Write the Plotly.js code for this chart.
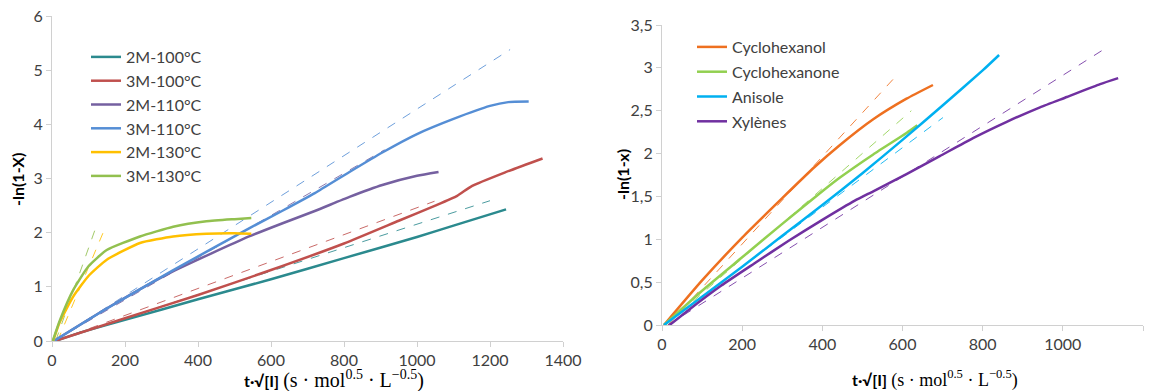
<!DOCTYPE html>
<html>
<head>
<meta charset="utf-8">
<script src="https://cdn.plot.ly/plotly-3.0.1.min.js"></script>
<style>html,body{margin:0;padding:0;background:#fff}#chart{width:1160px;height:391px}</style>
</head>
<body>
<div id="chart"></div>
<script>
// ---------- LEFT CHART DATA ----------
const leftNames = ["2M-100°C", "3M-100°C", "2M-110°C", "3M-110°C", "2M-130°C", "3M-130°C"];
const leftColors = ["#2B8A8E", "#C0504D", "#7560A0", "#558ED5", "#FFC000", "#92C04F"];

const x2M100 = [8, 100, 200, 400, 600, 800, 1000, 1100, 1244];
const y2M100 = [0, 0.20, 0.39, 0.77, 1.14, 1.53, 1.92, 2.13, 2.43];
const x3M100 = [8, 200, 400, 600, 800, 950, 1050, 1110, 1150, 1240, 1344];
const y3M100 = [0, 0.42, 0.85, 1.31, 1.80, 2.22, 2.50, 2.68, 2.86, 3.11, 3.37];
const x2M110 = [5, 150, 330, 540, 630, 720, 815, 905, 1000, 1059];
const y2M110 = [0, 0.60, 1.28, 1.93, 2.17, 2.40, 2.66, 2.88, 3.05, 3.12];
const x3M110 = [5, 150, 330, 540, 630, 720, 815, 905, 1000, 1100, 1200, 1250, 1306];
const y3M110 = [0, 0.60, 1.30, 2.08, 2.40, 2.73, 3.12, 3.48, 3.82, 4.10, 4.34, 4.41, 4.42];
const x2M130 = [3, 20, 58, 100, 150, 241, 332, 423, 500, 546];
const y2M130 = [0, 0.33, 0.82, 1.20, 1.50, 1.81, 1.93, 1.98, 1.99, 1.98];
const x3M130 = [2, 22, 58, 100, 150, 241, 332, 423, 500, 546];
const y3M130 = [0, 0.39, 0.94, 1.38, 1.68, 1.93, 2.11, 2.21, 2.25, 2.27];

// linear fits (dashed) : start/end points
const fitLeftX = [[5, 1200], [10, 1048], [5, 911], [5, 1255], [15, 145], [10, 125]];
const fitLeftY = [[0, 2.59], [0, 2.58], [0, 3.53], [0, 5.38], [0, 2.08], [0, 2.19]];

// ---------- RIGHT CHART DATA ----------
const rightNames = ["Cyclohexanol", "Cyclohexanone", "Anisole", "Xylènes"];
const rightColors = ["#EE7020", "#92D050", "#00B0F0", "#7030A0"];

const xCyclohexanol = [5, 100, 200, 300, 380, 444, 527, 610, 676];
const yCyclohexanol = [0, 0.52, 1.02, 1.48, 1.84, 2.10, 2.40, 2.64, 2.80];
const xCyclohexanone = [5, 100, 200, 300, 400, 444, 527, 610, 637];
const yCyclohexanone = [0, 0.40, 0.79, 1.18, 1.56, 1.72, 1.99, 2.24, 2.33];
const xAnisole = [5, 100, 200, 300, 400, 500, 600, 700, 800, 841];
const yAnisole = [0, 0.33, 0.68, 1.04, 1.40, 1.77, 2.16, 2.56, 2.97, 3.15];
const xXylenes = [19, 65, 148, 231, 315, 398, 481, 527, 610, 693, 776, 860, 943, 1010, 1093, 1138];
const yXylenes = [0, 0.17, 0.46, 0.72, 0.98, 1.22, 1.45, 1.56, 1.76, 1.97, 2.18, 2.37, 2.54, 2.66, 2.81, 2.88];

const fitRightX = [[15, 585], [10, 622], [5, 701], [15, 1097]];
const fitRightY = [[0, 2.91], [0, 2.50], [0, 2.42], [0, 3.20]];

// tick labels
const leftXTicks = [0, 200, 400, 600, 800, 1000, 1200, 1400];
const leftYTicks = [0, 1, 2, 3, 4, 5, 6];
const rightXTicks = [0, 200, 400, 600, 800, 1000, 1200];
const rightYTicks = [0, 0.5, 1, 1.5, 2, 2.5, 3, 3.5];
const rightYTickText = ["0", "0,5", "1", "1,5", "2", "2,5", "3", "3,5"];

// ---------- BUILD ----------
const leftX = [x2M100, x3M100, x2M110, x3M110, x2M130, x3M130];
const leftY = [y2M100, y3M100, y2M110, y3M110, y2M130, y3M130];
const rightX = [xCyclohexanol, xCyclohexanone, xAnisole, xXylenes];
const rightY = [yCyclohexanol, yCyclohexanone, yAnisole, yXylenes];

const traces = [];
fitLeftX.forEach((fx, i) => traces.push({
  x: fx, y: fitLeftY[i], mode: 'lines', xaxis: 'x', yaxis: 'y', showlegend: false,
  line: {color: leftColors[i], width: 1, dash: 'dash'}, opacity: 0.85, hoverinfo: 'skip'
}));
fitRightX.forEach((fx, i) => traces.push({
  x: fx, y: fitRightY[i], mode: 'lines', xaxis: 'x2', yaxis: 'y2', showlegend: false,
  line: {color: rightColors[i], width: 1, dash: 'dash'}, opacity: 0.85, hoverinfo: 'skip'
}));
leftNames.forEach((n, i) => traces.push({
  x: leftX[i], y: leftY[i], name: n, mode: 'lines', xaxis: 'x', yaxis: 'y',
  legend: 'legend', legendgroup: 'L' + i,
  line: {color: leftColors[i], width: 2.5, shape: 'spline', smoothing: 0.5}
}));
rightNames.forEach((n, i) => traces.push({
  x: rightX[i], y: rightY[i], name: n, mode: 'lines', xaxis: 'x2', yaxis: 'y2',
  legend: 'legend2', legendgroup: 'R' + i,
  line: {color: rightColors[i], width: 2.5, shape: 'spline', smoothing: 0.5}
}));

const W = 1160, H = 391;
const fontFam = 'Lato, "Open Sans", sans-serif';
const axisCommon = {
  showgrid: false, zeroline: false, showline: true, linecolor: '#D0D0D0', linewidth: 1,
  ticks: 'outside', ticklen: 5, tickcolor: '#D0D0D0',
  tickfont: {family: fontFam, size: 16, color: '#404040'}, fixedrange: true
};

const mkTitle = (sz) => '<b>t·√[I]</b> <span style="font-family:\'Liberation Serif\',serif;font-size:' + sz + 'px">(s · mol<sup>0.5</sup> · L<sup>−0.5</sup>)</span>';

const layout = {
  width: W, height: H,
  margin: {l: 0, r: 0, t: 0, b: 0},
  paper_bgcolor: '#fff', plot_bgcolor: '#fff',
  showlegend: true,
  xaxis: Object.assign({}, axisCommon, {domain: [52 / W, 563 / W], range: [0, 1400], tickvals: leftXTicks, anchor: 'y'}),
  yaxis: Object.assign({}, axisCommon, {domain: [(H - 341) / H, (H - 16) / H], range: [0, 6], tickvals: leftYTicks, anchor: 'x'}),
  xaxis2: Object.assign({}, axisCommon, {domain: [662 / W, 1143 / W], range: [0, 1200], tickvals: rightXTicks, anchor: 'y2'}),
  yaxis2: Object.assign({}, axisCommon, {domain: [(H - 325) / H, (H - 25) / H], range: [0, 3.5], tickvals: rightYTicks, ticktext: rightYTickText, anchor: 'x2'}),
  legend: {x: 86 / W, y: (H - 40) / H, xanchor: 'left', yanchor: 'top', bgcolor: 'rgba(0,0,0,0)',
    font: {family: fontFam, size: 16, color: '#404040'}, tracegroupgap: 0, itemwidth: 30},
  legend2: {x: 692 / W, y: (H - 30) / H, xanchor: 'left', yanchor: 'top', bgcolor: 'rgba(0,0,0,0)',
    font: {family: fontFam, size: 16, color: '#404040'}, tracegroupgap: 1, itemwidth: 30},
  annotations: [
    {text: mkTitle(20), xref: 'paper', yref: 'paper', x: 334 / W, y: (H - 379) / H, showarrow: false,
      font: {family: fontFam, size: 16, color: '#000'}, xanchor: 'center', yanchor: 'middle'},
    {text: mkTitle(18), xref: 'paper', yref: 'paper', x: 935 / W, y: (H - 379) / H, showarrow: false,
      font: {family: fontFam, size: 16, color: '#000'}, xanchor: 'center', yanchor: 'middle'},
    {text: '<b>-ln(1-X)</b>', xref: 'paper', yref: 'paper', x: 17 / W, y: (H - 180) / H, showarrow: false,
      textangle: -90, font: {family: fontFam, size: 16, color: '#000'}, xanchor: 'center', yanchor: 'middle'},
    {text: '<b>-ln(1-x)</b>', xref: 'paper', yref: 'paper', x: 622 / W, y: (H - 175) / H, showarrow: false,
      textangle: -90, font: {family: fontFam, size: 16, color: '#000'}, xanchor: 'center', yanchor: 'middle'}
  ]
};

Plotly.newPlot('chart', traces, layout, {displayModeBar: false, staticPlot: true});
</script>
</body>
</html>
